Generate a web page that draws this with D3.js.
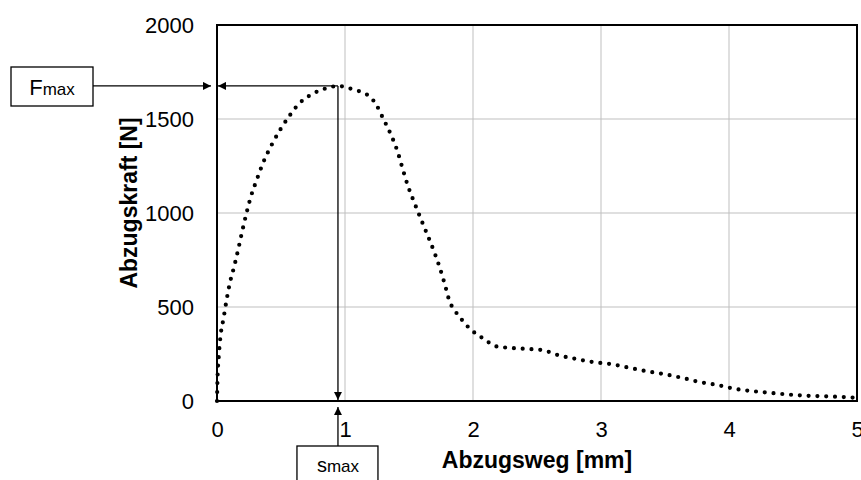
<!DOCTYPE html>
<html>
<head>
<meta charset="utf-8">
<script src="https://cdn.jsdelivr.net/npm/d3@7"></script>
<style>
  body { margin: 0; background: #fff; }
  text { font-family: Arial, "Liberation Sans", sans-serif; fill: #000; }
</style>
</head>
<body>
<div class="chart"></div>
<script>
// Abzugskraft über Abzugsweg (gelesen aus dem Bild)
const wegMm = [0, 0.004, 0.014, 0.03, 0.05, 0.073, 0.10, 0.136, 0.167, 0.198, 0.23, 0.266, 0.313, 0.36, 0.42,
  0.484, 0.558, 0.636, 0.745, 0.873, 0.945, 1.01, 1.078, 1.144, 1.2, 1.24, 1.30, 1.36, 1.41, 1.45, 1.49,
  1.54, 1.59, 1.643, 1.693, 1.74, 1.78, 1.818, 1.85, 1.89, 1.97, 2.07, 2.19, 2.26, 2.40, 2.54, 2.67,
  2.81, 2.94, 3.08, 3.22, 3.36, 3.50, 3.64, 3.77, 3.91, 4.05, 4.19, 4.33, 4.47, 4.61, 4.76, 4.90, 5.0];
const kraftN = [0, 120, 240, 360, 435, 530, 626, 720, 810, 906, 998, 1090, 1181, 1267, 1353,
  1432, 1509, 1578, 1633, 1667, 1676, 1668, 1654, 1640, 1615, 1581, 1500, 1415, 1328, 1236, 1147,
  1058, 973, 885, 800, 710, 620, 528, 488, 452, 388, 337, 289, 284, 278, 271, 243,
  223, 207, 196, 177, 158, 142, 122, 101, 85, 64, 52, 43, 34, 28, 25, 21, 17];
const xTicks = [0, 1, 2, 3, 4, 5];
const yTicks = [0, 500, 1000, 1500, 2000];
const peak = {x: 0.945, y: 1676};

const data = wegMm.map((d, i) => ({x: d, y: kraftN[i]}));

const W = 861, H = 480;
const margin = ({top: 25, right: 4, bottom: 79, left: 217});
const width = W - margin.left - margin.right,
    height = H - margin.top - margin.bottom;

const svg = d3.select('.chart')
    .append('svg')
    .attr('width', W)
    .attr('height', H);

const defs = svg.append('defs');
defs.append('marker')
    .attr('id', 'arrow')
    .attr('viewBox', '0 0 10 10')
    .attr('refX', 10)
    .attr('refY', 5)
    .attr('markerUnits', 'userSpaceOnUse')
    .attr('markerWidth', 9)
    .attr('markerHeight', 8)
    .attr('orient', 'auto')
    .append('path')
    .attr('d', 'M0,0L10,5L0,10Z')
    .attr('fill', '#000');

const group = svg.append('g')
    .attr('transform', `translate(${margin.left},${margin.top})`);

const xScale = d3.scaleLinear().domain([0, 5]).range([0, width]);
const yScale = d3.scaleLinear().domain([0, 2000]).range([height, 0]);

// Gitter
group.append('g')
    .selectAll('line')
    .data(xTicks.slice(1, -1))
    .join('line')
    .attr('x1', d => xScale(d)).attr('x2', d => xScale(d))
    .attr('y1', 0).attr('y2', height)
    .attr('stroke', '#bfbfbf').attr('stroke-width', 1);

group.append('g')
    .selectAll('line')
    .data(yTicks.slice(1, -1))
    .join('line')
    .attr('y1', d => yScale(d)).attr('y2', d => yScale(d))
    .attr('x1', 0).attr('x2', width)
    .attr('stroke', '#bfbfbf').attr('stroke-width', 1);

// Achsen (nur Beschriftung, keine Striche)
const xAxis = d3.axisBottom(xScale).tickValues(xTicks).tickFormat(d3.format('d')).tickSize(0).tickPadding(20);
const yAxis = d3.axisLeft(yScale).tickValues(yTicks).tickFormat(d3.format('d')).tickSize(0).tickPadding(23);

const gx = group.append('g')
    .attr('transform', `translate(0,${height})`)
    .call(xAxis);
const gy = group.append('g').call(yAxis);
[gx, gy].forEach(g => {
    g.select('.domain').remove();
    g.selectAll('text').attr('font-size', 22).attr('font-family', 'Arial, "Liberation Sans", sans-serif');
});

// Rahmen
group.append('rect')
    .attr('width', width)
    .attr('height', height)
    .attr('fill', 'none')
    .attr('stroke', '#000')
    .attr('stroke-width', 2);

// Kurve (punktiert)
const line = d3.line()
    .x(d => xScale(d.x))
    .y(d => yScale(d.y))
    .curve(d3.curveMonotoneX);

group.append('path')
    .datum(data)
    .attr('d', line)
    .attr('fill', 'none')
    .attr('stroke', '#000')
    .attr('stroke-width', 4.2)
    .attr('stroke-linecap', 'round')
    .attr('stroke-dasharray', '0,8.8');

// Markierung Fmax / smax
const px = xScale(peak.x), py = yScale(peak.y);

group.append('line')
    .attr('x1', px).attr('y1', py)
    .attr('x2', 1).attr('y2', py)
    .attr('stroke', '#000').attr('stroke-width', 1.3)
    .attr('marker-end', 'url(#arrow)');

group.append('line')
    .attr('x1', px).attr('y1', py)
    .attr('x2', px).attr('y2', height - 1)
    .attr('stroke', '#000').attr('stroke-width', 1.3)
    .attr('marker-end', 'url(#arrow)');

// Fmax-Kasten
const fBox = {x: 11 - margin.left, y: 67 - margin.top, w: 82, h: 39};
group.append('rect')
    .attr('x', fBox.x).attr('y', fBox.y)
    .attr('width', fBox.w).attr('height', fBox.h)
    .attr('fill', '#fff').attr('stroke', '#000').attr('stroke-width', 1.3);
group.append('line')
    .attr('x1', fBox.x + fBox.w).attr('y1', py)
    .attr('x2', -6).attr('y2', py)
    .attr('stroke', '#000').attr('stroke-width', 1.3)
    .attr('marker-end', 'url(#arrow)');
const fText = group.append('text')
    .attr('x', fBox.x + fBox.w / 2)
    .attr('y', fBox.y + 28)
    .attr('text-anchor', 'middle');
fText.append('tspan').attr('font-size', 22).text('F');
fText.append('tspan').attr('font-size', 17).text('max');

// smax-Kasten
const sBox = {x: px - 41, y: 446 - margin.top, w: 81, h: 60};
group.append('rect')
    .attr('x', sBox.x).attr('y', sBox.y)
    .attr('width', sBox.w).attr('height', sBox.h)
    .attr('fill', '#fff').attr('stroke', '#000').attr('stroke-width', 1.3);
group.append('line')
    .attr('x1', px).attr('y1', sBox.y)
    .attr('x2', px).attr('y2', height + 6)
    .attr('stroke', '#000').attr('stroke-width', 1.3)
    .attr('marker-end', 'url(#arrow)');
const sText = group.append('text')
    .attr('x', px)
    .attr('y', sBox.y + 26)
    .attr('text-anchor', 'middle');
sText.append('tspan').attr('font-size', 20).text('s');
sText.append('tspan').attr('font-size', 17).text('max');

// Achsentitel
svg.append('text')
    .text('Abzugsweg [mm]')
    .attr('x', margin.left + width / 2)
    .attr('y', 468)
    .attr('text-anchor', 'middle')
    .attr('font-size', 23)
    .attr('font-weight', 'bold');

svg.append('text')
    .text('Abzugskraft [N]')
    .attr('transform', 'translate(137,203) rotate(-90)')
    .attr('text-anchor', 'middle')
    .attr('font-size', 23)
    .attr('font-weight', 'bold');
</script>
</body>
</html>
